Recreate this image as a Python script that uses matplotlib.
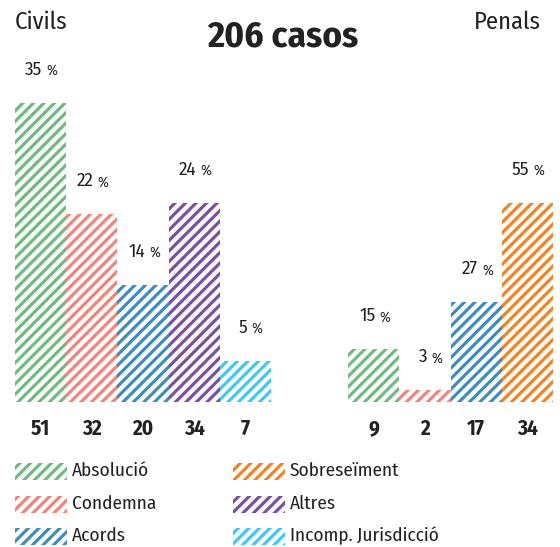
import matplotlib
matplotlib.use("Agg")
import matplotlib.pyplot as plt
from matplotlib.patches import Rectangle

# --- data ---
categories = ["Absolució", "Condemna", "Acords", "Altres", "Incomp. Jurisdicció", "Sobreseïment"]
colors = {"Absolució": "#6dbb7d", "Condemna": "#f2837a", "Acords": "#3d8cc0",
          "Altres": "#7b4ea3", "Incomp. Jurisdicció": "#3ccaf1", "Sobreseïment": "#f5821f"}

civil_cats = ["Absolució", "Condemna", "Acords", "Altres", "Incomp. Jurisdicció"]
civil_counts = [51, 32, 20, 34, 7]
civil_pct = [35, 22, 14, 24, 5]

penal_cats = ["Absolució", "Condemna", "Acords", "Sobreseïment"]
penal_counts = [9, 2, 17, 34]
penal_pct = [15, 3, 27, 55]

total = 206

DPI = 63
W, H = 560, 547
def pt(px):
    return px * 72 / DPI

plt.rcParams['font.family'] = ['Fira Sans Condensed', 'DejaVu Sans']
plt.rcParams['hatch.linewidth'] = 3.6
TXT = "#222222"

fig = plt.figure(figsize=(W / DPI, H / DPI), dpi=DPI)

# axes placed in pixel units: x 15..553, baseline at y=402
ax_left, ax_right = 15, 553
ax_bottom, ax_top = 402, 50
ax = fig.add_axes([ax_left / W, (H - ax_bottom) / H,
                   (ax_right - ax_left) / W, (ax_bottom - ax_top) / H])
ax.set_xlim(-0.5, 10.0)
ax.set_ylim(0, 60)
ax.axis("off")

civil_x = list(range(len(civil_counts)))
penal_x = [6.5 + i for i in range(len(penal_counts))]

groups = [(civil_x, civil_counts, civil_pct, civil_cats),
          (penal_x, penal_counts, penal_pct, penal_cats)]

for xs, counts, pcts, cats in groups:
    ax.bar(xs, counts, width=1.0, color="white",
           edgecolor=[colors[c] for c in cats], linewidth=0, hatch="//")
    for x, n, p in zip(xs, counts, pcts):
        ax.annotate(str(p), (x, n), xytext=(2, 33), textcoords="offset pixels",
                    ha="right", va="center", fontsize=pt(19), color=TXT)
        ax.annotate("%", (x, n), xytext=(6, 32), textcoords="offset pixels",
                    ha="left", va="center", fontsize=pt(14.5), color=TXT)
        ax.annotate(str(n), (x, 0), xytext=(0, -27), textcoords="offset pixels",
                    ha="center", va="center", fontsize=pt(21), fontweight="bold",
                    color=TXT)

# overlay in pixel coordinates for headings and legend
ov = fig.add_axes([0, 0, 1, 1])
ov.set_xlim(0, W)
ov.set_ylim(H, 0)
ov.axis("off")

ov.text(283, 37, f"{total} casos", ha="center", va="center",
        fontsize=pt(37), fontweight="bold", color=TXT)
ov.text(15, 22, "Civils", ha="left", va="center", fontsize=pt(24.5), color=TXT)
ov.text(541, 22, "Penals", ha="right", va="center", fontsize=pt(24.5), color=TXT)

legend_order = [["Absolució", "Condemna", "Acords"],
                ["Sobreseïment", "Altres", "Incomp. Jurisdicció"]]
col_x = [15, 233]
row_y = [471, 504, 536]
for cx, col in zip(col_x, legend_order):
    for ry, cat in zip(row_y, col):
        ov.add_patch(Rectangle((cx, ry - 8.5), 52, 17, facecolor="white",
                               edgecolor=colors[cat], linewidth=0, hatch="//"))
        ov.text(cx + 57, ry, cat, ha="left", va="center",
                fontsize=pt(19.2), color=TXT)

fig.savefig("out.png", dpi=DPI)
